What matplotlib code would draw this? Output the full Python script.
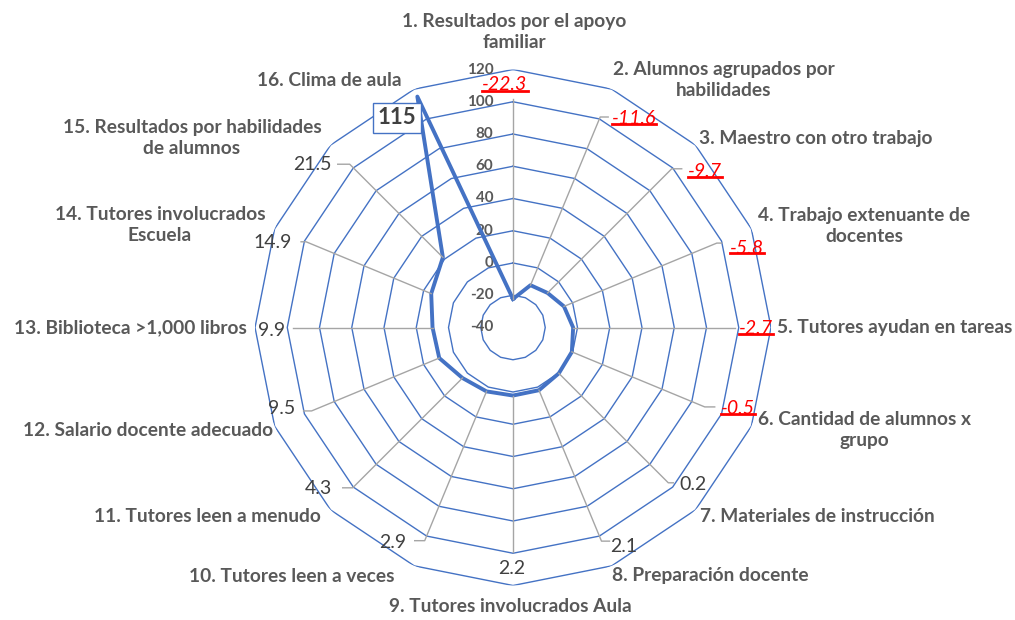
import numpy as np
import matplotlib.pyplot as plt
from matplotlib.lines import Line2D

plt.rcParams['font.family'] = ['Lato', 'DejaVu Sans']

categories = ['1. Resultados por el apoyo\nfamiliar',
              '2. Alumnos agrupados por\nhabilidades',
              '3. Maestro con otro trabajo',
              '4. Trabajo extenuante de\ndocentes',
              '5. Tutores ayudan en tareas',
              '6. Cantidad de alumnos x\ngrupo',
              '7. Materiales de instrucción',
              '8. Preparación docente',
              '9. Tutores involucrados Aula',
              '10. Tutores leen a veces',
              '11. Tutores leen a menudo',
              '12. Salario docente adecuado',
              '13. Biblioteca >1,000 libros',
              '14. Tutores involucrados\nEscuela',
              '15. Resultados por habilidades\nde alumnos',
              '16. Clima de aula']
values = [-22.3, -11.6, -9.7, -5.8, -2.7, -0.5, 0.2, 2.1, 2.2, 2.9, 4.3, 9.5, 9.9, 14.9, 21.5, 115]
r_ticks = [-40, -20, 0, 20, 40, 60, 80, 100, 120]

# label placement (pixels in the 1015x620 picture)
cat_xy = [(514, 32), (724, 80), (816, 138), (864, 226), (895, 327), (864, 430),
          (817, 517), (710, 575), (510, 606), (292, 576), (207, 517), (148, 430),
          (130, 328), (160, 225), (192, 138), (329, 81)]
val_xy = [(505, 85), (634, 118), (705, 171), (747, 248), (756, 328), (738, 408),
          (693, 485), (624, 547), (512, 569), (393, 543), (318, 488), (282, 409),
          (272, 330), (273, 242), (312, 164), (397, 118)]
leader_r = [101.8, 101.3, 99.2, 96.8, 97.7, 88.7, 96.2, 103.4, 99.2, 103.1, 100.6,
            95.2, 96.4, 98.9, 103.2, None]
tail_px = [0, 8, 10, 5, 0, 10, 5, 8, 0, -10, -10, -8, 0, -5, -12, 0]

W, H = 1015, 620
blue = '#4472C4'

fig = plt.figure(figsize=(W / 100, H / 100), dpi=100)
cx, cy, R = 513, 327.5, 258
ax = fig.add_axes([(cx - R) / W, (H - cy - R) / H, 2 * R / W, 2 * R / H], projection='polar')
ax.set_theta_offset(np.pi / 2)
ax.set_theta_direction(-1)
ax.set_ylim(r_ticks[0], r_ticks[-1])
ax.grid(False)
ax.set_xticks([])
ax.set_yticks([])
ax.spines['polar'].set_visible(False)
ax.patch.set_alpha(0)

n = len(values)
theta = np.arange(n) * 2 * np.pi / n
theta_c = np.append(theta, theta[0])

for r in r_ticks[1:]:
    ax.plot(theta_c, [r] * (n + 1), color=blue, lw=1.0, zorder=1)

for r in r_ticks:
    ax.annotate(str(r), xy=(0, r), xytext=(-14, 0), textcoords='offset points',
                ha='right', va='center', fontsize=11, fontweight='bold',
                color='#595959', annotation_clip=False)

ax.plot(theta_c, np.append(values, values[0]), color=blue, lw=2.8, zorder=4)

# leader lines
to_fig = fig.transFigure.inverted()
for i in range(n):
    if leader_r[i] is None:
        continue
    p0 = ax.transData.transform((theta[i], values[i]))
    p1 = ax.transData.transform((theta[i], leader_r[i]))
    p2 = p1 + np.array([tail_px[i], 0])
    pts = to_fig.transform(np.array([p0, p1, p2]))
    fig.add_artist(Line2D(pts[:, 0], pts[:, 1], color='#A5A5A5', lw=1.0, zorder=3))

for lab, (x, y) in zip(categories, cat_xy):
    fig.text(x / W, 1 - y / H, lab, ha='center', va='center', multialignment='center',
             fontsize=13.8, fontweight='bold', color='#595959', linespacing=1.25)

fig.canvas.draw()
rend = fig.canvas.get_renderer()
for i, (x, y) in enumerate(val_xy):
    v = values[i]
    lab = f'{v:g}'
    if i == n - 1:
        fig.text(x / W, 1 - y / H, lab, ha='center', va='center', fontsize=16,
                 fontweight='bold', color='#404040', zorder=5,
                 bbox=dict(boxstyle='square,pad=0.22', fc='white', ec=blue, lw=1.0))
    elif v < 0:
        t = fig.text(x / W, 1 - y / H, lab, ha='center', va='center', fontsize=14,
                     fontstyle='italic', color='#FF0000')
        bb = t.get_window_extent(rend)
        uy = bb.y0 + 3
        pts = to_fig.transform(np.array([[bb.x0, uy], [bb.x1, uy]]))
        fig.add_artist(Line2D(pts[:, 0], pts[:, 1], color='#FF0000', lw=2.0))
    else:
        fig.text(x / W, 1 - y / H, lab, ha='center', va='center', fontsize=14,
                 color='#404040')

fig.savefig('out.png', dpi=100, facecolor='white')
